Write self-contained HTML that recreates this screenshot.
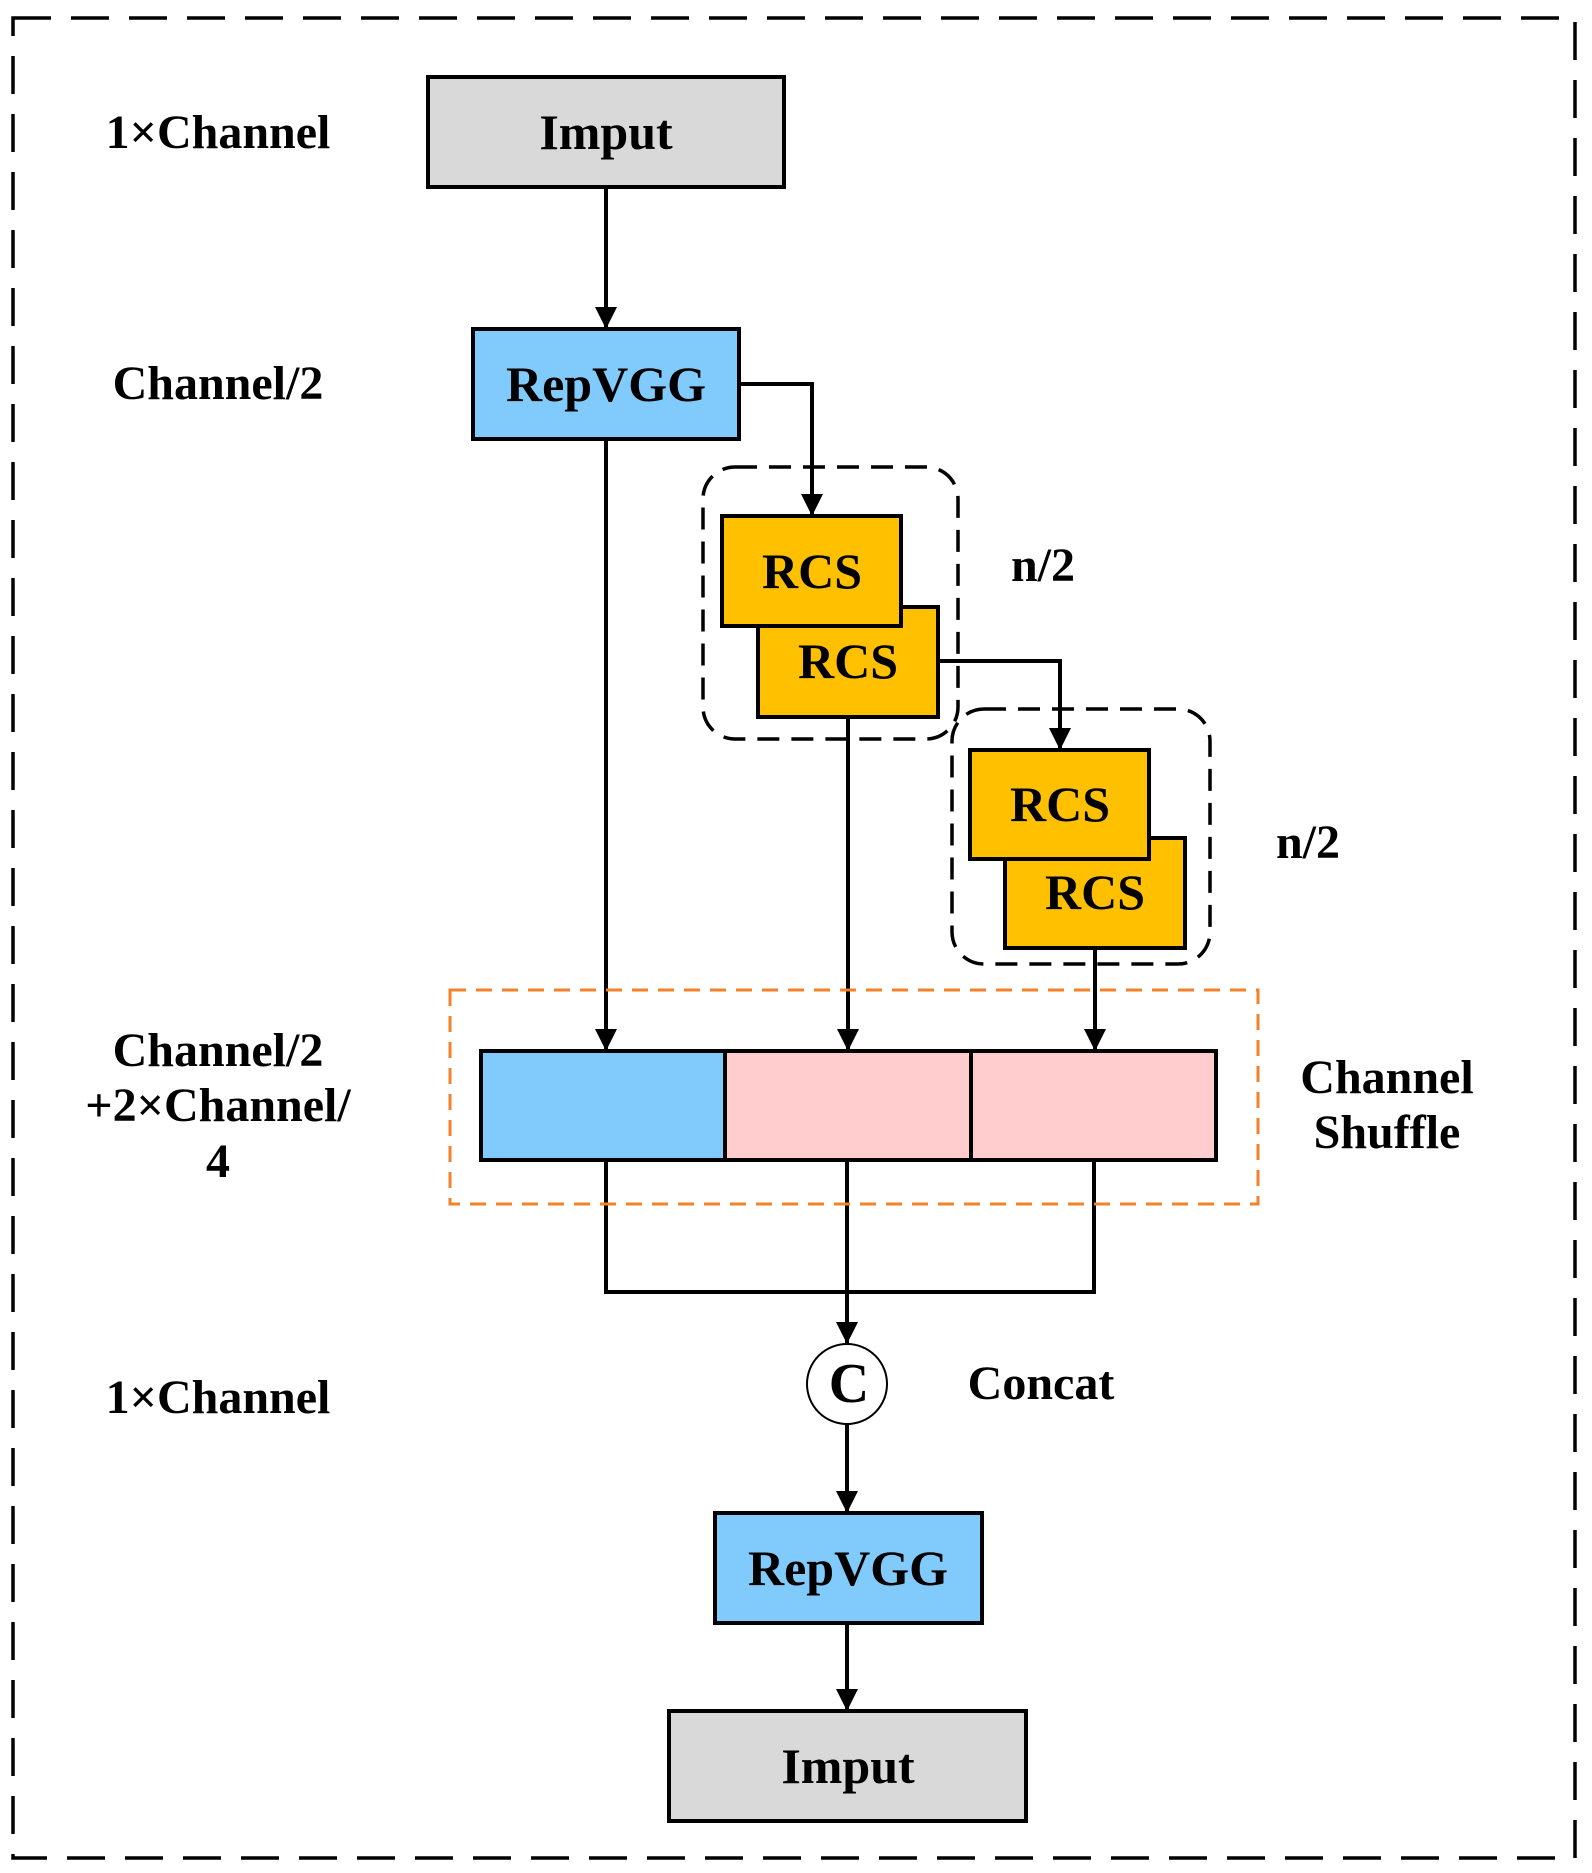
<!DOCTYPE html>
<html><head><style>
html,body{margin:0;padding:0;background:#fff;}
svg{display:block;}
text{font-family:"Liberation Serif",serif;font-weight:bold;fill:#000;}
</style></head><body>
<svg width="1592" height="1873" viewBox="0 0 1592 1873" xmlns="http://www.w3.org/2000/svg">
<defs>
<marker id="a" markerWidth="22" markerHeight="22" refX="22" refY="11" orient="auto" markerUnits="userSpaceOnUse" viewBox="0 0 22 22">
<path d="M0,0 L22,11 L0,22 z" fill="#000"/>
</marker>
</defs>
<rect x="13" y="18" width="1562" height="1840" fill="none" stroke="#000" stroke-width="3.5" stroke-dasharray="38,20"/>
<g font-size="48" text-anchor="middle">
<text x="218" y="148">1×Channel</text>
<text x="218" y="399">Channel/2</text>
<text x="218" y="1066">Channel/2</text>
<text x="218" y="1121">+2×Channel/</text>
<text x="218" y="1177">4</text>
<text x="218" y="1413">1×Channel</text>
<text x="1043" y="581">n/2</text>
<text x="1308" y="858">n/2</text>
<text x="1387" y="1093">Channel</text>
<text x="1387" y="1148">Shuffle</text>
<text x="1041" y="1399">Concat</text>
</g>
<g stroke="#000" stroke-width="4" fill="none">
<line x1="606" y1="187" x2="606" y2="329" marker-end="url(#a)"/>
<polyline points="739,384 812,384 812,516" marker-end="url(#a)"/>
<line x1="606" y1="439" x2="606" y2="1051" marker-end="url(#a)"/>
<polyline points="938,661 1060,661 1060,750" marker-end="url(#a)"/>
<line x1="848" y1="717" x2="848" y2="1051" marker-end="url(#a)"/>
<line x1="1095" y1="948" x2="1095" y2="1051" marker-end="url(#a)"/>
<polyline points="606,1160 606,1292 1094,1292 1094,1160"/>
<line x1="847" y1="1160" x2="847" y2="1344" marker-end="url(#a)"/>
<line x1="847" y1="1424" x2="847" y2="1513" marker-end="url(#a)"/>
<line x1="847" y1="1623" x2="847" y2="1711" marker-end="url(#a)"/>
</g>
<rect x="703" y="467" width="255" height="272" rx="32" fill="none" stroke="#000" stroke-width="3.5" stroke-dasharray="22,12"/>
<rect x="952" y="709" width="258" height="255" rx="32" fill="none" stroke="#000" stroke-width="3.5" stroke-dasharray="22,12"/>
<rect x="450" y="990" width="808" height="214" fill="none" stroke="#f4822a" stroke-width="3" stroke-dasharray="16,10"/>
<g stroke="#000" stroke-width="4">
<rect x="428" y="77" width="356" height="110" fill="#d9d9d9"/>
<rect x="473" y="329" width="266" height="110" fill="#80cbfb"/>
<rect x="758" y="607" width="180" height="110" fill="#ffc000"/>
<rect x="722" y="516" width="179" height="110" fill="#ffc000"/>
<rect x="1005" y="838" width="180" height="110" fill="#ffc000"/>
<rect x="970" y="750" width="179" height="109" fill="#ffc000"/>
<rect x="481" y="1051" width="244" height="109" fill="#80cbfb"/>
<rect x="725" y="1051" width="246" height="109" fill="#ffcdcd"/>
<rect x="971" y="1051" width="245" height="109" fill="#ffcdcd"/>
<rect x="715" y="1513" width="267" height="110" fill="#80cbfb"/>
<rect x="669" y="1711" width="357" height="110" fill="#d9d9d9"/>
</g>
<circle cx="847" cy="1384" r="40" fill="#fff" stroke="#000" stroke-width="2"/>
<g font-size="50" text-anchor="middle">
<text x="606" y="149">Imput</text>
<text x="606" y="401">RepVGG</text>
<text x="812" y="588">RCS</text>
<text x="848" y="678">RCS</text>
<text x="1060" y="821">RCS</text>
<text x="1095" y="909">RCS</text>
<text x="849" y="1402" font-size="56">C</text>
<text x="848" y="1585">RepVGG</text>
<text x="848" y="1783">Imput</text>
</g>
</svg>
</body></html>
